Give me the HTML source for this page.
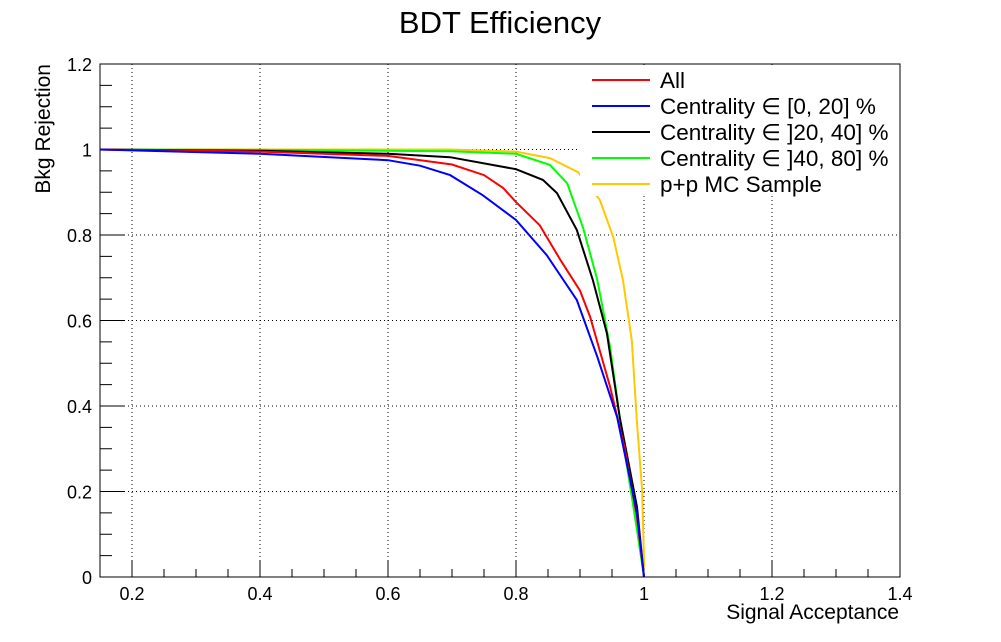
<!DOCTYPE html>
<html><head><meta charset="utf-8"><style>
body{margin:0;background:#fff;}
svg{display:block;font-family:"Liberation Sans",sans-serif;}
</style></head><body>
<svg id="c" width="1001" height="642"></svg>
<script>
const xTicks=[0.2,0.4,0.6,0.8,1,1.2,1.4];
const xTickLabels=["0.2","0.4","0.6","0.8","1","1.2","1.4"];
const yTicks=[0,0.2,0.4,0.6,0.8,1,1.2];
const yTickLabels=["0","0.2","0.4","0.6","0.8","1","1.2"];
const seriesNames=["All","Centrality \u2208 [0, 20] %","Centrality \u2208 ]20, 40] %","Centrality \u2208 ]40, 80] %","p+p MC Sample"];
const seriesColors=["#ff0000","#0000ff","#000000","#00ff00","#ffc800"];
const redX=[0.15,0.4,0.6,0.7,0.75,0.78,0.8,0.837,0.87,0.9,0.916,0.947,0.97,0.989,1.0];
const redY=[1,0.995,0.985,0.965,0.94,0.91,0.877,0.823,0.74,0.67,0.608,0.445,0.3,0.14,0];
const blueX=[0.15,0.4,0.6,0.65,0.697,0.748,0.8,0.848,0.895,0.927,0.958,0.989,1.0];
const blueY=[1,0.99,0.975,0.962,0.94,0.893,0.835,0.753,0.648,0.515,0.374,0.15,0];
const blackX=[0.15,0.4,0.6,0.697,0.8,0.842,0.864,0.895,0.92,0.942,0.962,0.989,1.0];
const blackY=[1,0.997,0.99,0.982,0.954,0.929,0.898,0.812,0.695,0.57,0.374,0.164,0];
const greenX=[0.15,0.4,0.697,0.8,0.853,0.88,0.905,0.927,0.947,0.967,0.989,1.0];
const greenY=[1,0.999,0.996,0.99,0.964,0.921,0.816,0.695,0.538,0.32,0.11,0];
const yellowX=[0.15,0.4,0.697,0.8,0.853,0.897,0.931,0.952,0.967,0.981,0.989,0.997,1.0,1.0];
const yellowY=[1,1,1,0.995,0.98,0.947,0.882,0.795,0.695,0.554,0.36,0.204,0.04,0.02];
const xMin=0.15,xMax=1.4,yMin=0,yMax=1.2;
const L=100,R=900,T=64,B=577;
const sx=v=>L+(v-xMin)/(xMax-xMin)*(R-L);
const sy=v=>B-(v-yMin)/(yMax-yMin)*(B-T);
const svg=document.getElementById('c');
const NS='http://www.w3.org/2000/svg';
function mk(t,a,p){const e=document.createElementNS(NS,t);for(const k in a)e.setAttribute(k,a[k]);(p||svg).appendChild(e);return e;}
xTicks.forEach(v=>{if(v>xMin&&v<xMax){const g=mk('line',{x1:sx(v),x2:sx(v),y1:T,y2:B,stroke:'#000','stroke-width':1,'stroke-dasharray':'1,3'});

}});
yTicks.forEach(v=>{if(v>yMin&&v<yMax){const g=mk('line',{x1:L,x2:R,y1:sy(v),y2:sy(v),stroke:'#000','stroke-width':1,'stroke-dasharray':'1,3'});

}});
for(let v=0.15;v<=1.4001;v+=0.05){const maj=Math.abs(v*5-Math.round(v*5))<1e-6;const t=mk('line',{x1:sx(v),x2:sx(v),y1:B,y2:B-(maj?16:8),stroke:'#000'});

}
for(let v=0;v<=1.2001;v+=0.05){const maj=Math.abs(v*5-Math.round(v*5))<1e-6;const t=mk('line',{x1:L,x2:L+(maj?24:12),y1:sy(v),y2:sy(v),stroke:'#000'});

}
xTicks.forEach((v,i)=>{const t=mk('text',{x:sx(v),y:600,'font-size':18,'text-anchor':'middle'});t.textContent=xTickLabels[i];

});
yTicks.forEach((v,i)=>{const t=mk('text',{x:92,y:sy(v)+7,'font-size':18,'text-anchor':'end'});t.textContent=yTickLabels[i];

});
const xs=[redX,blueX,blackX,greenX,yellowX],ys=[redY,blueY,blackY,greenY,yellowY];
const order=[4,3,2,0,1];
order.forEach(i=>{const d=xs[i].map((x,j)=>(j?'L':'M')+sx(x).toFixed(1)+','+sy(ys[i][j]).toFixed(1)).join('');
const p=mk('path',{d:d,fill:'none',stroke:seriesColors[i],'stroke-width':2});

});
const fr=mk('rect',{x:L,y:T,width:R-L,height:B-T,fill:'none',stroke:'#000'});


const lg=mk('rect',{x:580,y:68,width:318,height:128,fill:'#fff'});


seriesNames.forEach((n,i)=>{const y=80+i*26;
const l=mk('line',{x1:592,x2:650,y1:y,y2:y,stroke:seriesColors[i],'stroke-width':2});


const t=mk('text',{x:660,y:y+8,'font-size':22.5});t.textContent=n;

});
const ti=mk('text',{x:500,y:33,'font-size':31,'text-anchor':'middle'});ti.textContent='BDT Efficiency';


const xl=mk('text',{x:899,y:619,'font-size':21,'text-anchor':'end'});xl.textContent='Signal Acceptance';


const yl=mk('text',{x:50,y:64,'font-size':21,'text-anchor':'end',transform:'rotate(-90 50 64)'});yl.textContent='Bkg Rejection';


</script>
</body></html>
